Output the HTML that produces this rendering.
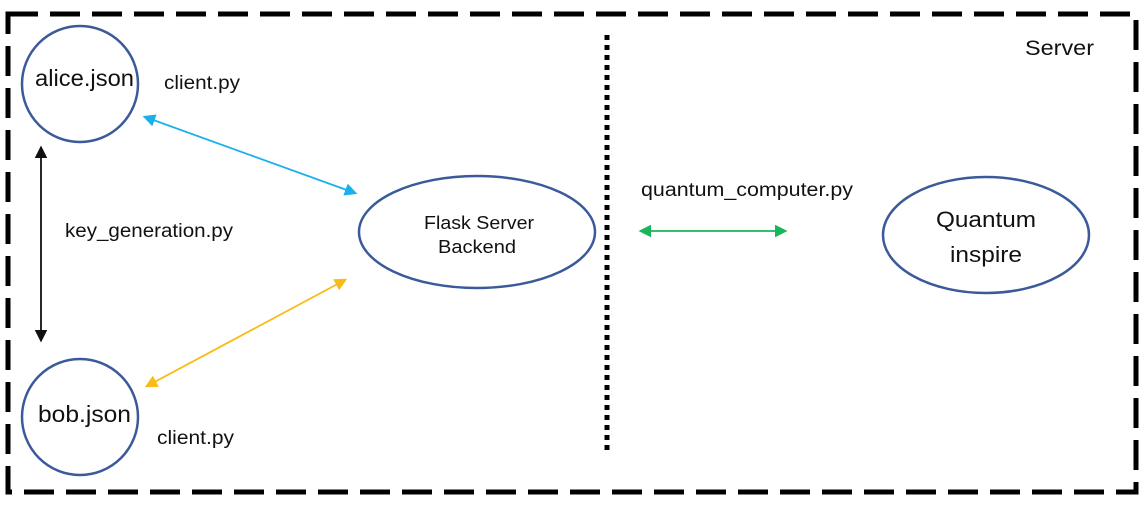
<!DOCTYPE html>
<html><head><meta charset="utf-8"><style>
html,body{margin:0;padding:0;background:#fff;}
svg{display:block;}
text{font-family:"Liberation Sans",sans-serif;fill:#111;}
</style></head><body>
<svg width="1146" height="508" viewBox="0 0 1146 508">
<defs>
<marker id="ab" viewBox="0 0 10 10" refX="8" refY="5" markerWidth="7" markerHeight="7" orient="auto-start-reverse"><path d="M0,0 L10,5 L0,10 z" fill="#1ab0ec"/></marker>
<marker id="ak" viewBox="0 0 10 10" refX="8" refY="5" markerWidth="7" markerHeight="7" orient="auto-start-reverse"><path d="M0,0 L10,5 L0,10 z" fill="#111"/></marker>
<marker id="ay" viewBox="0 0 10 10" refX="8" refY="5" markerWidth="7" markerHeight="7" orient="auto-start-reverse"><path d="M0,0 L10,5 L0,10 z" fill="#f8bc14"/></marker>
<marker id="ag" viewBox="0 0 10 10" refX="8" refY="5" markerWidth="7" markerHeight="7" orient="auto-start-reverse"><path d="M0,0 L10,5 L0,10 z" fill="#1ab45a"/></marker>
</defs>
<rect x="8" y="14" width="1128" height="478" fill="none" stroke="#000" stroke-width="5" stroke-dasharray="30,12"/>
<line x1="607" y1="35" x2="607" y2="455" stroke="#000" stroke-width="5" stroke-dasharray="5,5"/>
<circle cx="80" cy="84" r="58" fill="none" stroke="#3b5a9a" stroke-width="2.5"/>
<circle cx="80" cy="417" r="58" fill="none" stroke="#3b5a9a" stroke-width="2.5"/>
<ellipse cx="477" cy="232" rx="118" ry="56" fill="none" stroke="#3b5a9a" stroke-width="2.5"/>
<ellipse cx="986" cy="235" rx="103" ry="58" fill="none" stroke="#3b5a9a" stroke-width="2.5"/>
<line x1="145" y1="117" x2="355" y2="193" stroke="#1ab0ec" stroke-width="1.8" marker-start="url(#ab)" marker-end="url(#ab)"/>
<line x1="41" y1="148" x2="41" y2="340" stroke="#111" stroke-width="1.8" marker-start="url(#ak)" marker-end="url(#ak)"/>
<line x1="147" y1="386" x2="345" y2="280" stroke="#f8bc14" stroke-width="1.8" marker-start="url(#ay)" marker-end="url(#ay)"/>
<line x1="641" y1="231" x2="785" y2="231" stroke="#1ab45a" stroke-width="1.8" marker-start="url(#ag)" marker-end="url(#ag)"/>
<text x="35" y="86" font-size="23" textLength="99" lengthAdjust="spacingAndGlyphs">alice.json</text>
<text x="164" y="89" font-size="19" textLength="76" lengthAdjust="spacingAndGlyphs">client.py</text>
<text x="65" y="237" font-size="19" textLength="168" lengthAdjust="spacingAndGlyphs">key_generation.py</text>
<text x="38" y="422" font-size="23" textLength="93" lengthAdjust="spacingAndGlyphs">bob.json</text>
<text x="157" y="444" font-size="19" textLength="77" lengthAdjust="spacingAndGlyphs">client.py</text>
<text x="424" y="229" font-size="18" textLength="110" lengthAdjust="spacingAndGlyphs">Flask Server</text>
<text x="438" y="253" font-size="18" textLength="78" lengthAdjust="spacingAndGlyphs">Backend</text>
<text x="641" y="196" font-size="19" textLength="212" lengthAdjust="spacingAndGlyphs">quantum_computer.py</text>
<text x="936" y="227" font-size="22" textLength="100" lengthAdjust="spacingAndGlyphs">Quantum</text>
<text x="950" y="262" font-size="22" textLength="72" lengthAdjust="spacingAndGlyphs">inspire</text>
<text x="1025" y="55" font-size="21" textLength="69" lengthAdjust="spacingAndGlyphs">Server</text>
</svg>
</body></html>
